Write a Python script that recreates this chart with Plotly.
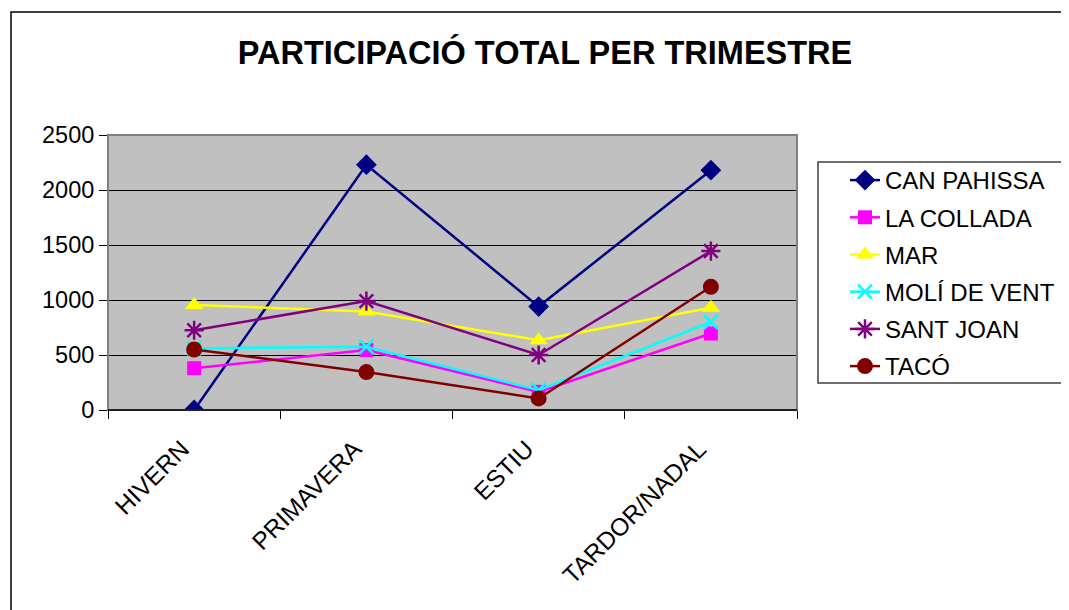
import plotly.graph_objects as go

categories = ["HIVERN", "PRIMAVERA", "ESTIU", "TARDOR/NADAL"]
can_pahissa = [0, 2230, 940, 2180]
la_collada = [380, 545, 165, 695]
mar = [955, 895, 635, 930]
moli_de_vent = [560, 575, 180, 800]
sant_joan = [725, 990, 500, 1445]
taco = [550, 345, 105, 1120]

series = [
    ("CAN PAHISSA", can_pahissa, "#000080", "diamond", 16),
    ("LA COLLADA", la_collada, "#FF00FF", "square", 14),
    ("MAR", mar, "#FFFF00", "triangle-up", 16),
    ("MOLÍ DE VENT", moli_de_vent, "#00FFFF", "x-thin-open", 14),
    ("SANT JOAN", sant_joan, "#800080", "asterisk-open", 16),
    ("TACÓ", taco, "#800000", "circle", 16),
]

fig = go.Figure()
for i, (name, vals, color, sym, size) in enumerate(series):
    fig.add_trace(go.Scatter(
        x=categories, y=vals, name=name, mode="lines+markers",
        line=dict(color=color, width=2.5),
        marker=dict(symbol=sym, size=size, color=color,
                    line=dict(color=color, width=2.5 if "open" in sym else 0)),
        legendgroup=f"g{i}",
    ))

OFF = 8  # page body margin
W, H = 1069 - OFF, 610 - OFF
L, R, T, B = 108 - OFF, 797 - OFF, 135 - OFF, 410 - OFF
pw, ph = R - L, B - T

def px_x(x):
    return (x - OFF - L) / pw

def px_y(y):
    return (B - (y - OFF)) / ph

fig.update_layout(
    width=W, height=H,
    margin=dict(l=L, r=W - R, t=T, b=H - B, autoexpand=False),
    paper_bgcolor="white",
    plot_bgcolor="#C0C0C0",
    font=dict(family="Liberation Sans, Arial, sans-serif", size=23, color="black"),
    title=dict(text="<b>PARTICIPACIÓ TOTAL PER TRIMESTRE</b>", x=(545 - OFF) / W, xref="container",
               xanchor="center", y=1 - (53 - OFF) / H, yref="container", yanchor="middle",
               font=dict(size=32.5, color="black")),
    showlegend=True,
    legend=dict(x=(845 - OFF) / W, xref="container", y=1 - (158 - OFF) / H, yref="container",
                xanchor="left", yanchor="top",
                borderwidth=0, bgcolor="rgba(0,0,0,0)",
                font=dict(size=24), tracegroupgap=3),
    xaxis=dict(type="category", range=[-0.5, 3.5], tickson="boundaries",
               ticks="outside", ticklen=8, tickcolor="black", tickangle=-45,
               showgrid=False, showline=True, linecolor="black", linewidth=1,
               tickfont=dict(size=24.5), ticklabelstandoff=14, ticklabelshift=-12),
    yaxis=dict(range=[0, 2500], dtick=500, ticks="outside", ticklen=8,
               tickcolor="black", showgrid=True, gridcolor="black", gridwidth=1,
               showline=True, linecolor="black", linewidth=1, zeroline=False,
               tickfont=dict(size=23.5)),
    shapes=[
        dict(type="rect", xref="paper", yref="paper", x0=0, x1=1, y0=0, y1=1,
             line=dict(color="#808080", width=2), layer="above"),
        dict(type="line", xref="paper", yref="paper", x0=0, x1=1, y0=0, y1=0,
             line=dict(color="black", width=1.5), layer="above"),
        dict(type="rect", xref="paper", yref="paper",
             x0=px_x(11), x1=px_x(1100), y0=px_y(640), y1=px_y(12),
             line=dict(color="black", width=1.5)),
        dict(type="rect", xref="paper", yref="paper",
             x0=px_x(818), x1=px_x(1100), y0=px_y(383), y1=px_y(162),
             line=dict(color="#404040", width=1.5), fillcolor="white"),
    ],
)

fig.write_html("out.html")
